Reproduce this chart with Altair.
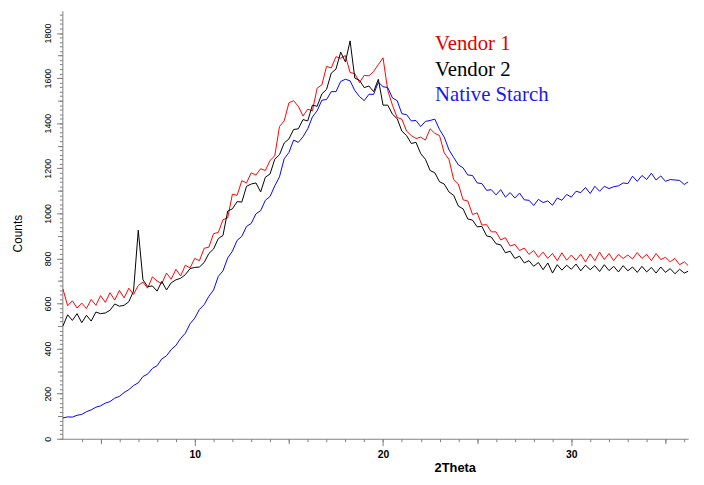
import altair as alt
import pandas as pd

# ---- data (2Theta grid every 0.25 deg, 3.00 .. 36.50) ----
theta_start = 3.0
theta_step = 0.25

vendor1 = [
    665, 590, 612, 580,   602, 578, 618, 592,   635, 605, 648, 615,
    658, 625, 668, 640,   680, 695, 668, 718,   700, 688, 735, 708,
    752, 722, 770, 758,   800, 790, 845, 850,   910, 915, 972, 980,
    1085, 1080, 1145, 1135,   1180, 1170, 1198, 1190,   1235, 1255, 1385, 1410,
    1490, 1500, 1475, 1432,   1462, 1455, 1555, 1570,   1652, 1645, 1695, 1688,
    1700, 1625, 1620, 1580,   1612, 1610, 1630, 1660,   1690, 1545, 1480, 1425,
    1418, 1365, 1345, 1332,   1338, 1325, 1375, 1355,   1345, 1268, 1240, 1150,
    1130, 1060, 1055, 995,   1002, 948, 950, 918,   918, 882, 892, 855,
    862, 835, 846, 818,   835, 805, 828, 800,   822, 790, 825, 792,
    815, 792, 818, 785,   820, 790, 828, 795,   822, 790, 818, 800,
    815, 798, 826, 800,   818, 790, 822, 795,   805, 785, 800, 772,
    785, 765, 762,
]

vendor2 = [
    500, 550, 525, 555,   515, 548, 522, 562,   555, 558, 570, 598,
    588, 592, 608, 655,   925, 705, 675, 678,   655, 698, 660, 692,
    705, 712, 728, 755,   760, 762, 782, 822,   842, 888, 902, 1010,
    1020, 1052, 1050, 1120,   1130, 1135, 1095, 1160,   1175, 1240, 1260, 1312,
    1330, 1372, 1375, 1416,   1410, 1480, 1475, 1530,   1550, 1622, 1640, 1715,
    1672, 1765, 1600, 1590,   1558, 1565, 1540, 1595,   1480, 1480, 1440, 1420,
    1365, 1345, 1310, 1315,   1265, 1240, 1190, 1180,   1140, 1130, 1095, 1080,
    1032, 1020, 975, 970,   940, 942, 900, 895,   865, 860, 825, 832,
    800, 810, 780, 790,   765, 782, 750, 780,   735, 772, 748, 770,
    752, 775, 745, 770,   750, 768, 742, 772,   746, 765, 740, 768,
    745, 762, 738, 765,   740, 760, 735, 762,   738, 755, 732, 752,
    735, 745, 725,
]

native_starch = [
    92, 97, 96, 104,   108, 120, 128, 140,   146, 158, 165, 180,
    188, 205, 218, 236,   248, 276, 287, 312,   324, 354, 368, 396,
    414, 445, 468, 510,   535, 574, 595, 632,   660, 720, 745, 802,
    832, 880, 898, 942,   955, 998, 1012, 1058,   1075, 1122, 1162, 1242,
    1270, 1325, 1315, 1340,   1375, 1428, 1455, 1502,   1505, 1540, 1540, 1585,
    1595, 1588, 1545, 1518,   1500, 1528, 1528, 1582,   1562, 1558, 1512, 1500,
    1442, 1438, 1410, 1412,   1385, 1408, 1412, 1418,   1372, 1338, 1282, 1248,
    1215, 1202, 1170, 1168,   1135, 1132, 1102, 1105,   1082, 1105, 1072, 1092,
    1068, 1090, 1060, 1058,   1035, 1062, 1048, 1055,   1036, 1068, 1058, 1084,
    1072, 1098, 1092, 1115,   1088, 1120, 1098, 1120,   1110, 1118, 1122, 1135,
    1132, 1165, 1142, 1168,   1150, 1178, 1148, 1166,   1142, 1150, 1148, 1146,
    1128, 1142, 1125,
]

series_names = ["Vendor 1", "Vendor 2", "Native Starch"]

x_major_ticks = [10, 20, 30]
x_mid_ticks = [5, 15, 25, 35]
x_minor_ticks = list(range(4, 37))
y_major_ticks = [0, 200, 400, 600, 800, 1000, 1200, 1400, 1600, 1800]
y_mid_ticks = [100, 300, 500, 700, 900, 1100, 1300, 1500, 1700]
y_minor_ticks = list(range(0, 1900, 20))

# ---- table ----
rows = []
for name, vals in zip(series_names, [vendor1, vendor2, native_starch]):
    for i, v in enumerate(vals):
        rows.append({"series": name, "t": theta_start + i * theta_step, "v": v})
df = pd.DataFrame(rows)

x_scale = alt.Scale(domain=[2.97, 36.2], nice=False, zero=False)
y_scale = alt.Scale(domain=[0, 1899], nice=False, zero=False)

AX_COL = "#808080"
FONT = "Liberation Sans"

x_main_axis = alt.Axis(
    values=x_major_ticks, orient="bottom", grid=False, tickSize=7, tickColor=AX_COL,
    domainColor=AX_COL, labelFont=FONT, labelFontSize=10.5, labelFontWeight="bold",
    labelColor="black", labelPadding=4, labelBaseline="top", format="d",
    title="2Theta", titleFont=FONT, titleFontSize=13, titleFontWeight="bold",
    titleColor="black", titleX=397, titleY=29, titleAlign="center",
    titleBaseline="middle", titleAngle=0,
)
y_main_axis = alt.Axis(
    values=y_major_ticks, orient="left", grid=False, tickSize=6, tickColor=AX_COL,
    domainColor=AX_COL, labelFont=FONT, labelFontSize=9, labelColor="black",
    labelAngle=270, labelAlign="center", labelBaseline="bottom", labelPadding=4,
    format="d",
    title="Counts", titleFont=FONT, titleFontSize=12, titleFontWeight="normal",
    titleColor="black", titleX=-45, titleY=225, titleAngle=270,
    titleAlign="center", titleBaseline="middle",
)


def tick_axis(vals, size, orient):
    return alt.Axis(values=vals, orient=orient, grid=False, tickSize=size,
                    tickColor=AX_COL, domain=False, labels=False, title=None)


def series_line(name, color, xaxis, yaxis, opacity=1.0):
    return alt.Chart(df).transform_filter(alt.datum.series == name).mark_line(
        color=color, strokeWidth=1, clip=True, strokeOpacity=opacity
    ).encode(
        x=alt.X("t:Q", scale=x_scale, axis=xaxis),
        y=alt.Y("v:Q", scale=y_scale, axis=yaxis),
    )


main = series_line("Vendor 1", "#ff0000", x_main_axis, y_main_axis)
blue = series_line("Native Starch", "#0000ff", None, None)
black = series_line("Vendor 2", "#000000", None, None)
mid_ax = series_line("Vendor 1", "#ffffff", tick_axis(x_mid_ticks, 5, "bottom"),
                     tick_axis(y_mid_ticks, 5, "left"), opacity=0)
min_ax = series_line("Vendor 1", "#ffffff", tick_axis(x_minor_ticks, 3, "bottom"),
                     tick_axis(y_minor_ticks, 3, "left"), opacity=0)

label_df = pd.DataFrame({"label": series_names})
legend_colors = ["#e00000", "#000000", "#1a1ae6"]
legend_y = [40, 66, 91]
legend_layers = []
for name, col, yy in zip(series_names, legend_colors, legend_y):
    legend_layers.append(
        alt.Chart(label_df).transform_filter(alt.datum.label == name).mark_text(
            align="left", baseline="alphabetic", font="Liberation Serif",
            fontSize=21, color=col,
        ).encode(text="label:N", x=alt.value(377), y=alt.value(yy))
    )

chart = alt.layer(main, mid_ax, min_ax, blue, black, *legend_layers).resolve_axis(
    x="independent", y="independent"
).properties(
    width=633, height=433,
    autosize=alt.AutoSizeParams(type="none"),
    padding={"left": 55, "top": 0, "right": 8, "bottom": 40},
).configure_view(stroke=None)

chart.save("out.html", embed_options={"renderer": "svg", "actions": False})
